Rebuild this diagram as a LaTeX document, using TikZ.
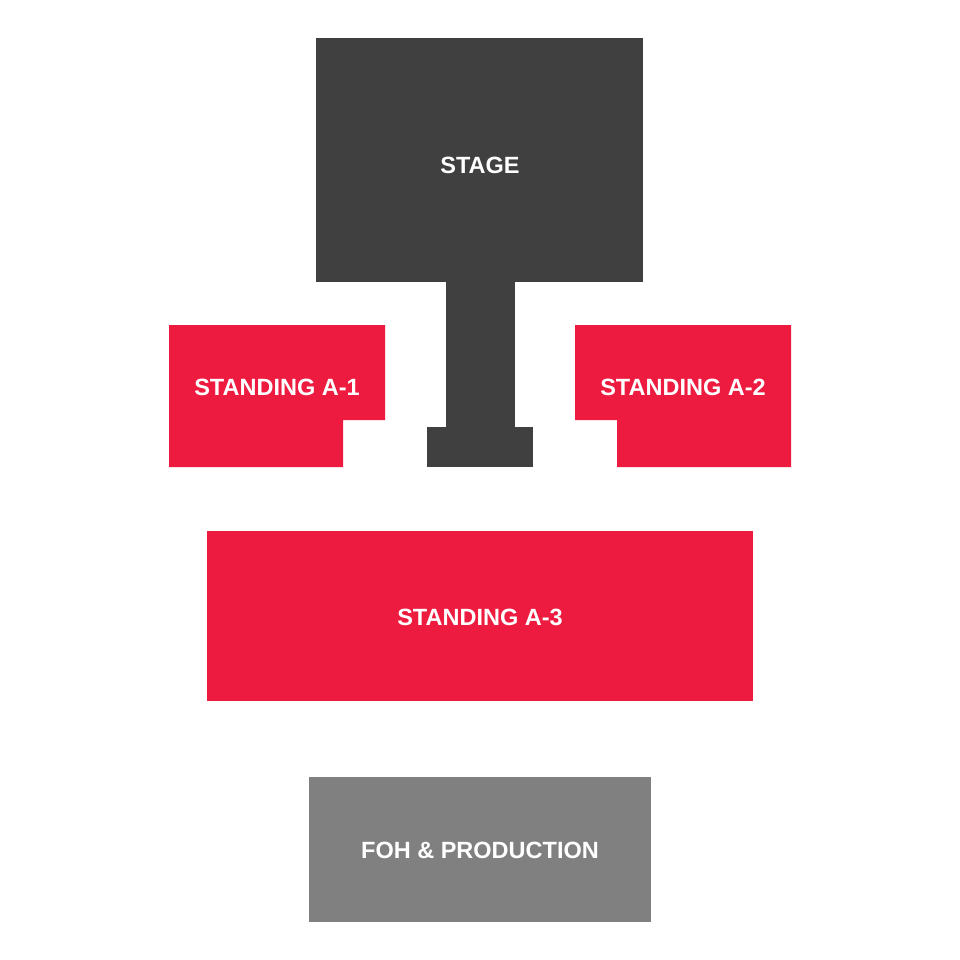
\documentclass[tikz,border=0pt]{standalone}
\usepackage{fontspec}
\setmainfont{Liberation Sans}
\usepackage{xcolor}
\definecolor{stagegrey}{HTML}{404040}
\definecolor{standred}{HTML}{EE1B40}
\definecolor{fohgrey}{HTML}{808080}

\begin{document}
\begin{tikzpicture}[x=1pt, y=-1pt, stagepart/.style={fill=stagegrey}, standpart/.style={fill=standred}, fohpart/.style={fill=fohgrey}, every node/.style={text=white, font=\fontsize{23.5}{28}\selectfont\bfseries, inner sep=0pt}]
  \useasboundingbox[fill=white] (0,0) rectangle (960,960);
  % stage and runway
  \fill[stagepart] (316,38) rectangle (643,282);
  \fill[stagepart] (446,281) rectangle (515,428);
  \fill[stagepart] (427,427) rectangle (533,467);
  % standing areas
  \fill[standpart] (169,325) -- (385,325) -- (385,420) -- (343,420) -- (343,467) -- (169,467) -- cycle;
  \fill[standpart] (575,325) -- (791,325) -- (791,467) -- (617,467) -- (617,420) -- (575,420) -- cycle;
  \fill[standpart] (207,531) rectangle (753,701);
  \fill[fohpart] (309,777) rectangle (651,922);
  \node(stage) at (480,165) {STAGE};
  \node(a1) at (277,387) {STANDING A-1};
  \node(a2) at (683,387) {STANDING A-2};
  \node(a3) at (480,617) {STANDING A-3};
  \node(foh) at (480,850) {FOH \& PRODUCTION};
\end{tikzpicture}
\end{document}
